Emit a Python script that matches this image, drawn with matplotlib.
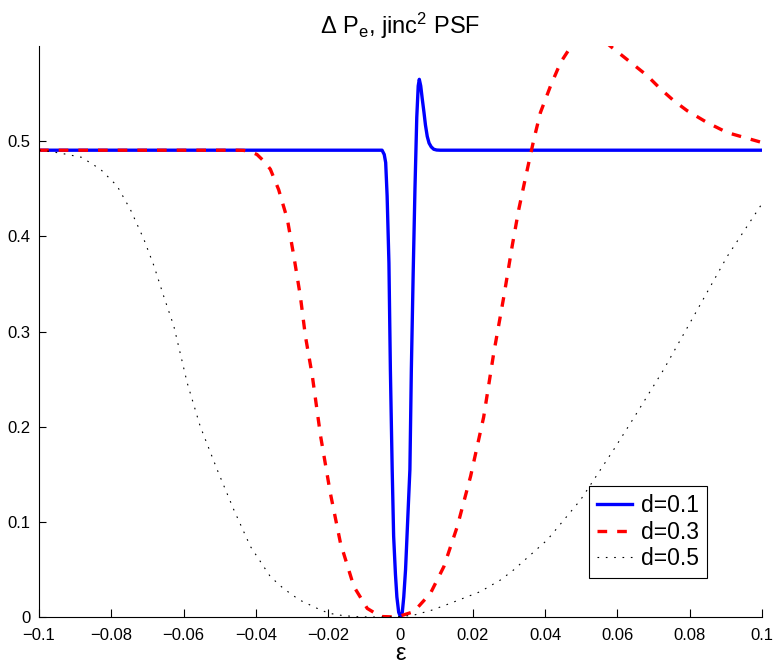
import matplotlib
matplotlib.use('Agg')
import matplotlib.pyplot as plt
from matplotlib.ticker import FuncFormatter

# 字体设置 (类似 MATLAB 的 Helvetica)
plt.rcParams['font.family'] = ['Liberation Sans', 'DejaVu Sans']
plt.rcParams['mathtext.fontset'] = 'custom'
plt.rcParams['mathtext.rm'] = 'Liberation Sans'
plt.rcParams['mathtext.it'] = 'Liberation Sans:italic'
plt.rcParams['axes.unicode_minus'] = True

# 数据
eps_01 = [-0.1, -0.0051, -0.0045, -0.0041, -0.0037, -0.0032, -0.0028, -0.0023, -0.0019,
          -0.0014, -0.001, -0.0005, 0.0, 0.0005, 0.0009, 0.0014, 0.0018, 0.0022, 0.0026,
          0.003, 0.0035, 0.004, 0.0045, 0.0049, 0.0052, 0.0056, 0.006, 0.0065, 0.0069,
          0.0074, 0.0079, 0.0085, 0.0092, 0.01, 0.011, 0.1]
dp_01 = [0.4905, 0.4905, 0.486, 0.4775, 0.4425, 0.372, 0.26, 0.155, 0.085,
         0.045, 0.021, 0.005, 0.0, 0.005, 0.021, 0.05, 0.085, 0.12, 0.155,
         0.26, 0.36, 0.45, 0.525, 0.558, 0.565, 0.558, 0.545, 0.53, 0.517,
         0.505, 0.498, 0.494, 0.4915, 0.4907, 0.4905, 0.4905]

eps_03 = [-0.1, -0.045, -0.0433, -0.0415, -0.0397, -0.0378, -0.036, -0.0337, -0.0313,
          -0.0295, -0.0277, -0.0263, -0.0244, -0.0221, -0.0194, -0.0166, -0.0129, -0.0092,
          -0.0055, -0.001, 0.0037, 0.0083, 0.012, 0.0157, 0.0194, 0.023, 0.0258, 0.0286,
          0.0309, 0.0327, 0.0346, 0.0369, 0.0387, 0.0415, 0.0443, 0.047, 0.0495, 0.052,
          0.0545, 0.058, 0.0636, 0.0682, 0.0719, 0.0756, 0.0793, 0.0848, 0.0904, 0.095, 0.1]
dp_03 = [0.4905, 0.4905, 0.4903, 0.489, 0.486, 0.479, 0.4705, 0.449, 0.418,
         0.379, 0.337, 0.295, 0.2535, 0.19, 0.13, 0.0776, 0.032, 0.009,
         0.0005, 0.0, 0.0056, 0.025, 0.053, 0.095, 0.148, 0.21, 0.2775, 0.337,
         0.39, 0.428, 0.462, 0.502, 0.53, 0.558, 0.5828, 0.5986, 0.61, 0.615,
         0.612, 0.6, 0.583, 0.569, 0.555, 0.5425, 0.532, 0.5196, 0.509, 0.504, 0.4986]

eps_05 = [-0.1, -0.0983, -0.0935, -0.0882, -0.083, -0.0784, -0.0747, -0.071, -0.0682,
          -0.0655, -0.0627, -0.059, -0.0554, -0.0507, -0.0461, -0.0415, -0.036, -0.0324,
          -0.028, -0.023, -0.0199, -0.016, -0.012, -0.008, -0.004, 0.0, 0.0037, 0.0085,
          0.0138, 0.0221, 0.0277, 0.0313, 0.0406, 0.0498, 0.059, 0.0645, 0.0728, 0.0811,
          0.0904, 0.0996, 0.1]
dp_05 = [0.4905, 0.49, 0.487, 0.483, 0.4705, 0.453, 0.428, 0.397, 0.369,
         0.337, 0.3056, 0.246, 0.2003, 0.1547, 0.1126, 0.074, 0.0424, 0.03,
         0.018, 0.009, 0.004, 0.0015, 0.0003, 0.0, 0.0, 0.0005, 0.002, 0.007,
         0.0144, 0.0267, 0.039, 0.0495, 0.081, 0.123, 0.176, 0.209, 0.26, 0.316,
         0.379, 0.432, 0.434]

labels = ['d=0.1', 'd=0.3', 'd=0.5']
x_ticks = [-0.1, -0.08, -0.06, -0.04, -0.02, 0, 0.02, 0.04, 0.06, 0.08, 0.1]
y_ticks = [0, 0.1, 0.2, 0.3, 0.4, 0.5]

fig = plt.figure(figsize=(7.75, 6.67), dpi=100)
ax = fig.add_axes([39 / 775, 50 / 667, 723 / 775, 571 / 667])

# 三条曲线
ax.plot(eps_01, dp_01, color='#0000ff', linewidth=2.4, label=labels[0])
ax.plot(eps_03, dp_03, color='#ff0000', linewidth=2.4, dashes=(2.9, 3.0), label=labels[1])
ax.plot(eps_05, dp_05, color='black', linewidth=0.8, dashes=(1.5, 6.0), label=labels[2])

ax.set_xlim(-0.1, 0.1)
ax.set_ylim(0, 0.6)
ax.set_xticks(x_ticks)
ax.set_yticks(y_ticks)


def fmt(v, pos):
    s = ('%.2f' % v).rstrip('0').rstrip('.')
    if s in ('-0', ''):
        s = '0'
    return s.replace('-', '\u2212')


ax.xaxis.set_major_formatter(FuncFormatter(fmt))
ax.yaxis.set_major_formatter(FuncFormatter(fmt))

# 只保留左边和下边的坐标轴
ax.spines['top'].set_visible(False)
ax.spines['right'].set_visible(False)
ax.spines['left'].set_linewidth(0.8)
ax.spines['bottom'].set_linewidth(0.8)
ax.tick_params(direction='in', length=5, width=0.8, labelsize=12, pad=6)
ax.tick_params(axis='x', length=6, pad=8)

ax.set_title(r'$\Delta$ P$_{\rm e}$, jinc$^{2}$ PSF', fontsize=17, pad=9)
ax.set_xlabel('\u03b5', fontsize=17, labelpad=0)

leg = ax.legend(loc='lower right', bbox_to_anchor=(668 / 723, 39 / 571),
                fontsize=16.5, frameon=True, fancybox=False, framealpha=1,
                edgecolor='black', borderaxespad=0, handlelength=1.5,
                handletextpad=0.4, labelspacing=0.15, borderpad=0.35)
leg.get_frame().set_linewidth(0.8)

plt.savefig('out.png', dpi=100)
